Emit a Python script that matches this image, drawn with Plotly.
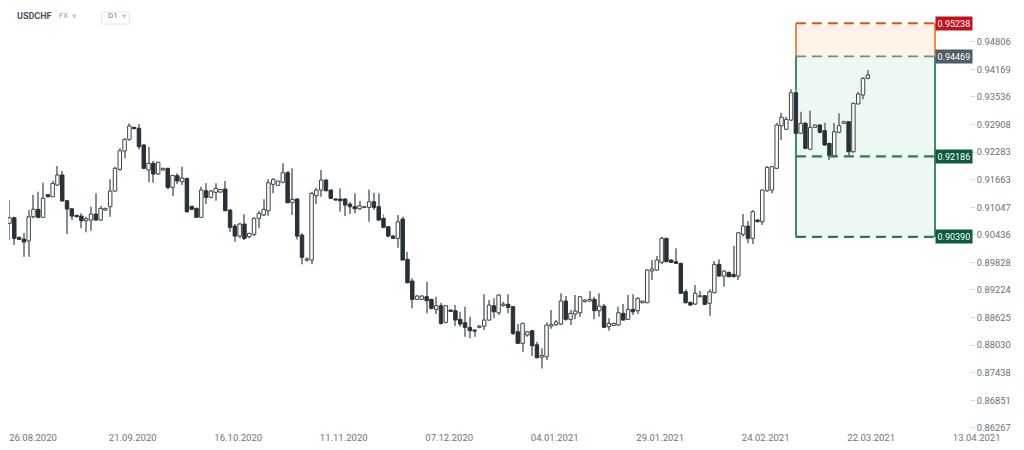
import math
import plotly.graph_objects as go

# ---------------- data ----------------
open_ = [0.90652,0.90690,0.90814,0.90380,0.90342,0.90298,0.90836,0.91001,0.90823,0.91326,
0.91282,0.91543,0.91768,0.91192,0.91014,0.90867,0.90852,0.90747,0.90763,0.90896,
0.90763,0.90985,0.91059,0.91409,0.91896,0.92307,0.92572,0.92844,0.92822,0.92443,
0.91880,0.92031,0.91790,0.91880,0.91918,0.91491,0.91752,0.91617,0.91693,0.91068,
0.91023,0.90823,0.91415,0.91268,0.91380,0.91386,0.91453,0.90985,0.90630,0.90408,
0.90674,0.90393,0.90446,0.90801,0.90874,0.90969,0.91559,0.91536,0.91603,0.91819,
0.91148,0.91231,0.90430,0.89880,0.89880,0.91304,0.91431,0.91655,0.91431,0.91231,
0.91231,0.91231,0.91119,0.91059,0.91014,0.91045,0.91045,0.91170,0.91059,0.90801,
0.90614,0.90408,0.90358,0.90785,0.89895,0.89419,0.89020,0.89020,0.89077,0.89020,
0.88802,0.88881,0.88521,0.88787,0.88772,0.88586,0.88512,0.88413,0.88354,0.88413,
0.88441,0.88571,0.88881,0.88729,0.88889,0.88911,0.88859,0.88317,0.88067,0.88246,
0.88339,0.88037,0.87772,0.87779,0.88441,0.88469,0.88484,0.88983,0.88586,0.88701,
0.88729,0.88968,0.88983,0.89020,0.88772,0.88874,0.88426,0.88456,0.88463,0.88716,
0.88586,0.88802,0.88772,0.88946,0.88946,0.89638,0.89660,0.89829,0.90358,0.89880,
0.89843,0.89807,0.89186,0.88955,0.88918,0.89077,0.89099,0.88933,0.89164,0.89785,
0.89529,0.89610,0.89566,0.89529,0.90446,0.90630,0.90358,0.90763,0.90725,0.91415,
0.91431,0.91918,0.92881,0.92799,0.93010,0.93633,0.92708,0.92935,0.92346,0.92844,
0.92897,0.92767,0.92481,0.92202,0.92731,0.92935,0.92971,0.92292,0.93375,0.93581,
0.93963]
close_ = [0.90763,0.90814,0.90358,0.90335,0.90276,0.90836,0.91001,0.90823,0.91246,0.91282,
0.91581,0.91768,0.91186,0.91008,0.90852,0.90836,0.90747,0.90792,0.90896,0.90763,
0.91023,0.91023,0.91409,0.91918,0.92314,0.92572,0.92874,0.92813,0.92405,0.91918,
0.92031,0.91790,0.92053,0.91918,0.91491,0.91761,0.91633,0.91700,0.90947,0.91001,
0.90823,0.91431,0.91268,0.91409,0.91469,0.91446,0.90969,0.90601,0.90408,0.90674,
0.90358,0.90468,0.90801,0.90912,0.91001,0.91595,0.91671,0.91633,0.91819,0.91148,
0.91224,0.90408,0.89939,0.89902,0.91357,0.91431,0.91655,0.91415,0.91246,0.91208,
0.91192,0.91097,0.91059,0.91014,0.91081,0.91059,0.91170,0.91045,0.90763,0.90601,
0.90408,0.90358,0.90725,0.89880,0.89382,0.89020,0.89092,0.89092,0.88990,0.88824,
0.88881,0.88499,0.88881,0.88759,0.88571,0.88484,0.88413,0.88339,0.88332,0.88441,
0.88571,0.88896,0.88750,0.89114,0.88918,0.88846,0.88283,0.88067,0.88499,0.88317,
0.88015,0.87757,0.87809,0.88463,0.88477,0.88528,0.88983,0.88586,0.88716,0.88765,
0.89077,0.89005,0.89020,0.88772,0.88874,0.88413,0.88499,0.88499,0.88729,0.88571,
0.88802,0.88750,0.89042,0.88983,0.89660,0.89682,0.89880,0.90358,0.89843,0.89829,
0.89807,0.89151,0.88946,0.88896,0.89151,0.89099,0.88911,0.89186,0.89785,0.89529,
0.89638,0.89514,0.89514,0.90481,0.90630,0.90358,0.90947,0.90725,0.91431,0.91941,
0.91954,0.92897,0.93072,0.93026,0.93633,0.92708,0.92935,0.92368,0.92844,0.92897,
0.92731,0.92443,0.92202,0.92744,0.92881,0.92971,0.92292,0.93391,0.93604,0.93963,
0.94039]
high_ = [0.91170,0.91208,0.90837,0.90393,0.90481,0.90985,0.91320,0.91393,0.91595,0.91342,
0.91639,0.91970,0.91858,0.91208,0.91023,0.90881,0.90912,0.90836,0.91059,0.91357,
0.91074,0.91037,0.91671,0.91954,0.92368,0.92594,0.92935,0.92858,0.92919,0.92459,
0.92405,0.92089,0.92067,0.91932,0.91932,0.91768,0.91806,0.91954,0.91700,0.91081,
0.91045,0.91505,0.91581,0.91431,0.91581,0.91460,0.91633,0.91001,0.90674,0.90703,
0.90889,0.90481,0.90823,0.90963,0.91224,0.91671,0.91693,0.91639,0.92031,0.91864,
0.91918,0.91246,0.90468,0.89939,0.91393,0.91482,0.91880,0.91671,0.91446,0.91246,
0.91469,0.91246,0.91157,0.91357,0.91192,0.91074,0.91446,0.91371,0.91357,0.90889,
0.90630,0.90424,0.90874,0.90836,0.90063,0.89478,0.89114,0.89108,0.89404,0.89033,
0.89077,0.88946,0.88896,0.88802,0.88896,0.88750,0.88859,0.88643,0.88369,0.88463,
0.89129,0.89005,0.89042,0.89129,0.88968,0.89129,0.88874,0.88484,0.88512,0.88332,
0.88354,0.88101,0.87960,0.88521,0.88787,0.88571,0.89151,0.89092,0.88787,0.89114,
0.89092,0.89020,0.89201,0.89077,0.89151,0.88918,0.88608,0.88512,0.88859,0.88918,
0.89114,0.89129,0.89064,0.88990,0.89675,0.89880,0.89968,0.90393,0.90371,0.89895,
0.90137,0.89821,0.89238,0.88968,0.89332,0.89208,0.89114,0.89238,0.89858,0.89895,
0.89660,0.89623,0.90195,0.90497,0.90896,0.90741,0.90985,0.90779,0.91446,0.91970,
0.91970,0.92949,0.93176,0.93085,0.93711,0.93711,0.93199,0.92971,0.93222,0.92912,
0.92912,0.92949,0.92495,0.92949,0.93163,0.92994,0.92987,0.93404,0.93657,0.93986,
0.94154]
low_ = [0.90630,0.90320,0.90210,0.90320,0.89953,0.89953,0.90801,0.90801,0.90815,0.91268,
0.91268,0.91521,0.91180,0.90453,0.90763,0.90823,0.90579,0.90490,0.90526,0.90747,
0.90747,0.90969,0.90836,0.91393,0.91864,0.92143,0.92540,0.92806,0.92346,0.91896,
0.91603,0.91595,0.91768,0.91864,0.91446,0.91297,0.91565,0.91543,0.90925,0.90985,
0.90814,0.90815,0.91119,0.91246,0.91192,0.91371,0.90962,0.90503,0.90283,0.90358,
0.90320,0.90358,0.90408,0.90579,0.90852,0.90858,0.91357,0.91527,0.91581,0.91134,
0.90874,0.90335,0.89785,0.89843,0.89792,0.91119,0.91282,0.91402,0.91231,0.91192,
0.90947,0.90852,0.90896,0.90912,0.90985,0.91023,0.90725,0.90985,0.90747,0.90579,
0.90380,0.90342,0.90151,0.89872,0.89369,0.88824,0.89005,0.89005,0.88716,0.88802,
0.88701,0.88477,0.88499,0.88744,0.88441,0.88426,0.88209,0.88175,0.88209,0.88391,
0.88354,0.88556,0.88608,0.88679,0.88859,0.88716,0.88246,0.88052,0.87886,0.88209,
0.87794,0.87745,0.87530,0.87708,0.88382,0.88441,0.88463,0.88556,0.88463,0.88586,
0.88643,0.88955,0.88968,0.88586,0.88643,0.88398,0.88339,0.88441,0.88448,0.88556,
0.88571,0.88679,0.88701,0.88933,0.88933,0.89441,0.89645,0.89792,0.89829,0.89814,
0.89792,0.89136,0.88933,0.88874,0.88896,0.89064,0.88896,0.88664,0.89151,0.89514,
0.89295,0.89500,0.89500,0.89441,0.90401,0.90247,0.90232,0.90712,0.90652,0.91393,
0.91357,0.91903,0.92556,0.92783,0.92987,0.92700,0.92692,0.92346,0.92330,0.92828,
0.92708,0.92427,0.92105,0.92179,0.92708,0.92919,0.92179,0.92269,0.93368,0.93482,
0.93940]

date_labels = ["26.08.2020", "21.09.2020", "16.10.2020", "11.11.2020", "07.12.2020",
               "04.01.2021", "29.01.2021", "24.02.2021", "22.03.2021", "13.04.2021"]
price_ticks = [0.86267, 0.86851, 0.87438, 0.88030, 0.88625, 0.89224, 0.89828, 0.90436,
               0.91047, 0.91663, 0.92283, 0.92908, 0.93536, 0.94169, 0.94806]
level_values = [0.95238, 0.94469, 0.92186, 0.90390]
symbol = "USDCHF"
market = "FX"
interval = "D1"

# ---------------- layout constants ----------------
# The page body has an 8px default margin, so the figure is drawn 8px in.
OFF = 8
W, H = 1024 - 2 * OFF, 450 - 2 * OFF
BOTTOM = 12
PH = H - BOTTOM
PX_PER_BAR = 4.795
FIRST_PX = 4.7 - OFF
x_lo = -FIRST_PX / PX_PER_BAR
x_hi = x_lo + W / PX_PER_BAR
y_top = -0.019575
y_bot = -0.064385
BOX_X0 = 165
BOX_X1 = (935 - OFF - FIRST_PX) / PX_PER_BAR
LABEL_STEP = 22
LABEL_OFFSET = 4.7
BODY_W = 0.72
LINE_W = 1.0 / PX_PER_BAR   # one pixel in bar units


def fx(px):   # page pixel -> paper x
    return (px - OFF) / W


def fy(px):   # page pixel -> paper y (relative to plot area)
    return 1 - (px - OFF) / PH


n = len(open_)
idx = list(range(n))

fig = go.Figure()

# ---- zones (drawn as bars so they sit beneath the candles) ----
box_mid = (BOX_X0 + BOX_X1) / 2
box_w = BOX_X1 - BOX_X0
fig.add_trace(go.Bar(x=[box_mid], base=[level_values[1]],
                     y=[level_values[0] - level_values[1]], width=[box_w],
                     marker=dict(color="#fef3e7", line=dict(width=0)),
                     hoverinfo="skip", showlegend=False))
fig.add_trace(go.Bar(x=[box_mid], base=[level_values[3]],
                     y=[level_values[1] - level_values[3]], width=[box_w],
                     marker=dict(color="#eef8f3", line=dict(width=0)),
                     hoverinfo="skip", showlegend=False))
# zone side borders
fig.add_trace(go.Bar(x=[BOX_X0, BOX_X1], base=[level_values[1]] * 2,
                     y=[level_values[0] - level_values[1]] * 2, width=[LINE_W] * 2,
                     marker=dict(color="#ee8a4a", line=dict(width=0)),
                     hoverinfo="skip", showlegend=False))
fig.add_trace(go.Bar(x=[BOX_X0, BOX_X1], base=[level_values[3]] * 2,
                     y=[level_values[1] - level_values[3]] * 2, width=[LINE_W] * 2,
                     marker=dict(color="#3f8a68", line=dict(width=0)),
                     hoverinfo="skip", showlegend=False))

# ---- wicks ----
fig.add_trace(go.Bar(x=idx, base=low_, y=[h - l for h, l in zip(high_, low_)],
                     width=LINE_W,
                     marker=dict(color="#878e93", line=dict(width=0)),
                     hoverinfo="skip", showlegend=False))

# ---- bodies ----
up = [c >= o for o, c in zip(open_, close_)]
body_lo = [min(o, c) for o, c in zip(open_, close_)]
body_len = [abs(c - o) for o, c in zip(open_, close_)]
fig.add_trace(go.Bar(
    x=idx, y=body_len, base=body_lo, width=BODY_W,
    marker=dict(color=["#ffffff" if u else "#283136" for u in up],
                line=dict(color=["#3b4449" if u else "#283136" for u in up], width=1)),
    hoverinfo="skip", showlegend=False))

# ---- level lines ----
level_colors = ["#e0522a", "#7b8790", "#2f7a56", "#2f7a56"]
level_widths = [2, 1.6, 2.2, 2.2]
for v, c, w in zip(level_values, level_colors, level_widths):
    fig.add_trace(go.Scatter(x=[BOX_X0, BOX_X1], y=[v, v], mode="lines",
                             line=dict(color=c, width=w, dash="10px,6px"),
                             hoverinfo="skip", showlegend=False))

# level price tags
tag_colors = ["#c3101c", "#4f5d67", "#0d5b3d", "#0d5b3d"]
annotations = []
for v, c in zip(level_values, tag_colors):
    annotations.append(dict(x=BOX_X1, y=math.log10(v), xref="x", yref="y",
                            text=f"{v:.5f}", showarrow=False, xanchor="left",
                            yanchor="middle", bgcolor=c, borderpad=1.5,
                            font=dict(family="Roboto", size=9, color="#ffffff")))

# header
annotations += [
    dict(x=fx(15), y=fy(16), xref="paper", yref="paper", text=f"<b>{symbol}</b>",
         showarrow=False, xanchor="left", yanchor="middle",
         font=dict(family="Roboto", size=9, color="#4a5560")),
    dict(x=fx(56.5), y=fy(16), xref="paper", yref="paper", text=market,
         showarrow=False, xanchor="left", yanchor="middle",
         font=dict(family="Roboto", size=7.5, color="#8f9aa2")),
    dict(x=fx(70), y=fy(15.5), xref="paper", yref="paper", text="▾",
         showarrow=False, xanchor="left", yanchor="middle",
         font=dict(family="DejaVu Sans", size=9, color="#c3c9ce")),
    dict(x=fx(105.5), y=fy(16), xref="paper", yref="paper", text=interval,
         showarrow=False, xanchor="left", yanchor="middle",
         font=dict(family="Roboto", size=8, color="#6f7a82")),
    dict(x=fx(119.5), y=fy(15.5), xref="paper", yref="paper", text="▾",
         showarrow=False, xanchor="left", yanchor="middle",
         font=dict(family="DejaVu Sans", size=9, color="#c3c9ce")),
]
shapes = [dict(type="rect", xref="paper", yref="paper", x0=fx(101.7), x1=fx(129.3),
               y0=fy(24), y1=fy(12), line=dict(color="#e1e5e8", width=1),
               fillcolor="rgba(0,0,0,0)")]

# date ticks every 22 bars; the first one is nudged so it stays inside the page
tickvals_x = [LABEL_OFFSET + LABEL_STEP * k for k in range(len(date_labels))]
min_first = x_lo + 25 / PX_PER_BAR
tickvals_x[0] = max(tickvals_x[0], min_first)

fig.update_layout(
    width=W, height=H,
    margin=dict(l=0, r=0, t=0, b=BOTTOM),
    paper_bgcolor="#ffffff", plot_bgcolor="#ffffff",
    showlegend=False, barmode="overlay",
    annotations=annotations, shapes=shapes,
    xaxis=dict(range=[x_lo, x_hi], domain=[0, 1], showgrid=False, zeroline=False,
               showline=False, tickmode="array", tickvals=tickvals_x, ticktext=date_labels,
               ticks="", ticklabeloverflow="allow",
               tickfont=dict(family="Roboto", size=9.5, color="#6b757c"),
               fixedrange=True),
    yaxis=dict(type="log", range=[y_bot, y_top], side="right", anchor="free",
               position=fx(970), showgrid=False, zeroline=False, showline=False,
               tickmode="array", tickvals=price_ticks,
               ticktext=[f"{t:.5f}" for t in price_ticks],
               ticks="outside", ticklen=4, tickcolor="#d0d5d9", tickwidth=1,
               tickfont=dict(family="Roboto", size=9.3, color="#66717a"),
               fixedrange=True),
)

fig.write_html("out.html")
